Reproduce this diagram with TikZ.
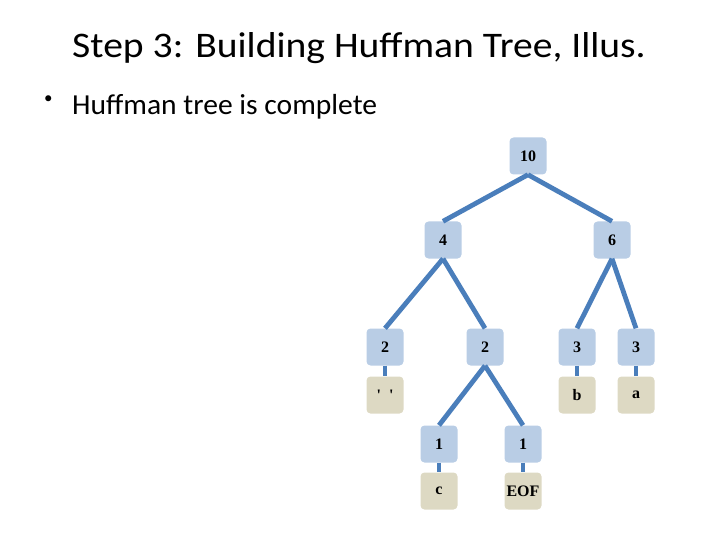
\documentclass[tikz,border=0pt]{standalone}
\usepackage{fontspec}
\setmainfont{Liberation Serif}
\newfontfamily\slidefont{Carlito}
\usepackage{tikz}
\definecolor{branchblue}{HTML}{4A7EBB}
\definecolor{countfill}{HTML}{B9CDE5}
\definecolor{leaffill}{HTML}{DDD9C3}
\tikzset{
  huffnode/.style={fill=countfill, rounded corners=4pt, minimum width=37pt, minimum height=37pt, inner sep=0pt, font=\fontsize{16}{18}\selectfont\bfseries},
  leafnode/.style={huffnode, fill=leaffill},
  branch/.style={draw=branchblue, line width=4.8pt}
}

\begin{document}
\begin{tikzpicture}[x=1pt, y=-1pt]
                \useasboundingbox (0,0) rectangle (720,540);
                \node[anchor=base west, inner sep=0pt, xscale=1.1, transform shape, font=\slidefont\fontsize{36}{43}\selectfont] (title) at (72,57.5) {Step 3: Building Huffman Tree, Illus.};
                \node[inner sep=0pt, font=\slidefont\fontsize{17}{20}\selectfont] (dot) at (48.3,99.8) {\textbullet};
                \node[anchor=base west, inner sep=0pt, xscale=1.02, transform shape, font=\slidefont\fontsize{29}{35}\selectfont] (bullet) at (72,114.3) {Huffman tree is complete};

                \node[huffnode] (n10) at (528,156) {10};
                \node[huffnode] (n4) at (443,240) {4};
                \node[huffnode] (n6) at (612,240) {6};

                \node[huffnode] (n2a) at (385,347) {2};
                \node[huffnode] (n2b) at (485,347) {2};
                \node[huffnode] (n3a) at (577,347) {3};
                \node[huffnode] (n3b) at (636,347) {3};

                \node[leafnode] (lsp) at (385,395) {\textquotesingle\hspace{8pt}\textquotesingle};
                \node[leafnode] (lb) at (577,395) {b};
                \node[leafnode] (la) at (636,395) {a};

                \node[huffnode] (n1a) at (439,444) {1};
                \node[huffnode] (n1b) at (523,444) {1};
                \node[leafnode] (lc) at (439,491) {c};
                \node[leafnode] (leof) at (523,491) {EOF};

                \draw[branch] (n10.south) -- (n4.north);
                \draw[branch] (n10.south) -- (n6.north);
                \draw[branch] (n4.south) -- (n2a.north);
                \draw[branch] (n4.south) -- (n2b.north);
                \draw[branch] (n6.south) -- (n3a.north);
                \draw[branch] (n6.south) -- (n3b.north);

                \draw[branch] (n2a.south) -- (lsp.north);
                \draw[branch] (n3a.south) -- (lb.north);
                \draw[branch] (n3b.south) -- (la.north);

                \draw[branch] (n2b.south) -- (n1a.north);
                \draw[branch] (n2b.south) -- (n1b.north);
                \draw[branch] (n1a.south) -- (lc.north);
                \draw[branch] (n1b.south) -- (leof.north);
            \end{tikzpicture}
\end{document}
